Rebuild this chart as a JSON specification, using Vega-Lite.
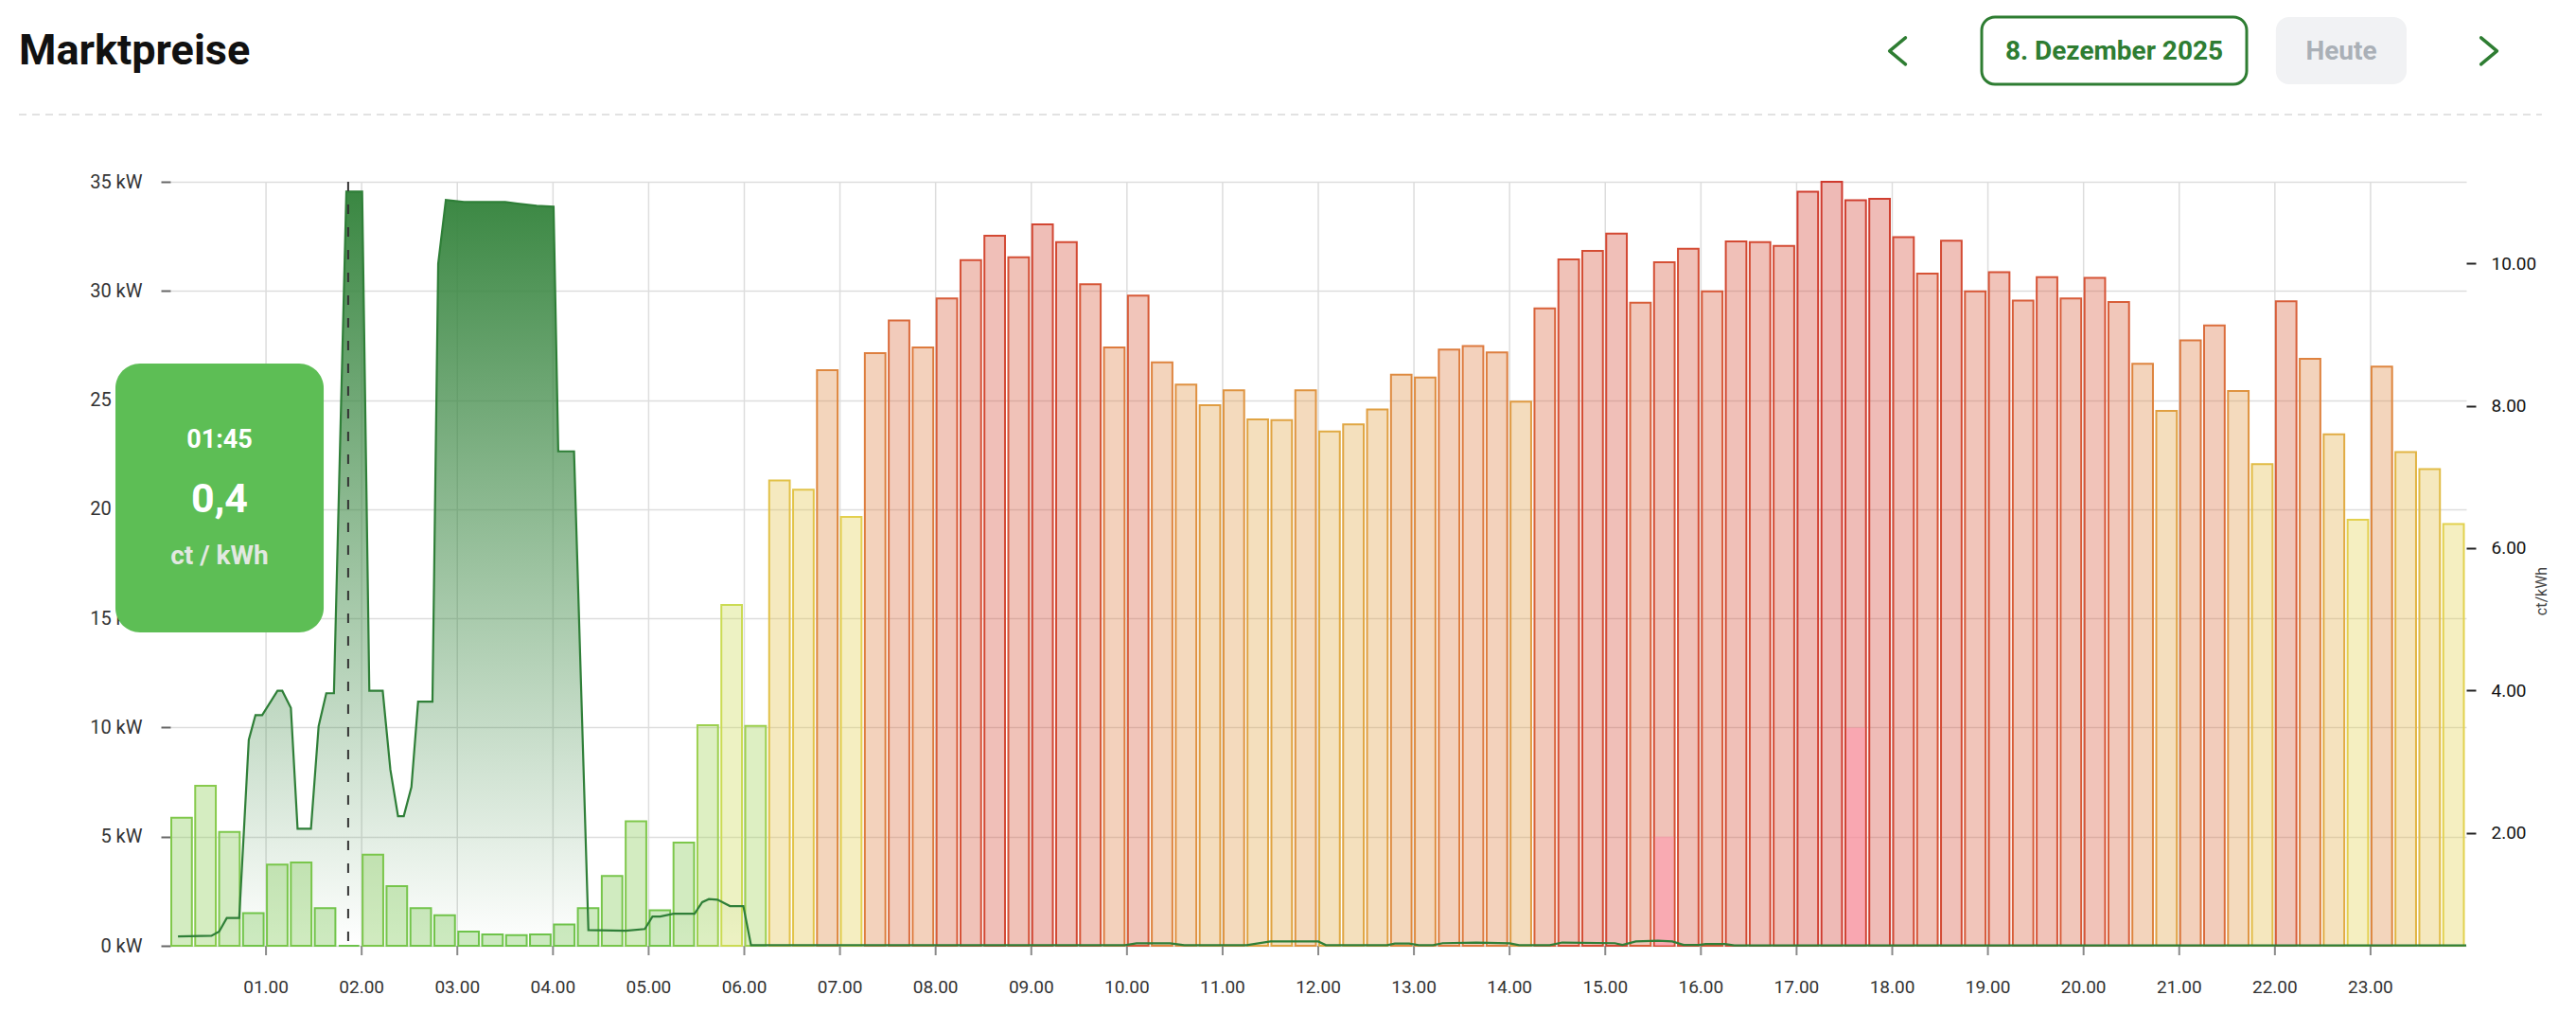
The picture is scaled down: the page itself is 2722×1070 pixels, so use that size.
{
  "$schema": "https://vega.github.io/schema/vega-lite/v6.json",
  "width": 2426,
  "height": 807,
  "autosize": {"type": "none"},
  "padding": {"left": 180, "top": 192, "right": 116, "bottom": 71},
  "background": "white",
  "config": {
    "view": {"stroke": null},
    "font": "Roboto",
    "axis": {"labelFont": "Roboto", "titleFont": "Roboto"}
  },
  "datasets": {
    "prices": [
      {"start":0,"end":0.25,"price":2.21},{"start":0.25,"end":0.5,"price":2.66},{"start":0.5,"end":0.75,"price":2.01},{"start":0.75,"end":1,"price":0.87},
      {"start":1,"end":1.25,"price":1.55},{"start":1.25,"end":1.5,"price":1.58},{"start":1.5,"end":1.75,"price":0.94},{"start":1.75,"end":2,"price":0.41},
      {"start":2,"end":2.25,"price":1.69},{"start":2.25,"end":2.5,"price":1.25},{"start":2.5,"end":2.75,"price":0.94},{"start":2.75,"end":3,"price":0.84},
      {"start":3,"end":3.25,"price":0.61},{"start":3.25,"end":3.5,"price":0.57},{"start":3.5,"end":3.75,"price":0.56},{"start":3.75,"end":4,"price":0.57},
      {"start":4,"end":4.25,"price":0.71},{"start":4.25,"end":4.5,"price":0.94},{"start":4.5,"end":4.75,"price":1.39},{"start":4.75,"end":5,"price":2.16},
      {"start":5,"end":5.25,"price":0.91},{"start":5.25,"end":5.5,"price":1.86},{"start":5.5,"end":5.75,"price":3.51},{"start":5.75,"end":6,"price":5.2},
      {"start":6,"end":6.25,"price":3.5},{"start":6.25,"end":6.5,"price":6.95},{"start":6.5,"end":6.75,"price":6.82},{"start":6.75,"end":7,"price":8.5},
      {"start":7,"end":7.25,"price":6.44},{"start":7.25,"end":7.5,"price":8.74},{"start":7.5,"end":7.75,"price":9.2},{"start":7.75,"end":8,"price":8.82},
      {"start":8,"end":8.25,"price":9.51},{"start":8.25,"end":8.5,"price":10.05},{"start":8.5,"end":8.75,"price":10.39},{"start":8.75,"end":9,"price":10.09},
      {"start":9,"end":9.25,"price":10.55},{"start":9.25,"end":9.5,"price":10.3},{"start":9.5,"end":9.75,"price":9.71},{"start":9.75,"end":10,"price":8.82},
      {"start":10,"end":10.25,"price":9.55},{"start":10.25,"end":10.5,"price":8.61},{"start":10.5,"end":10.75,"price":8.3},{"start":10.75,"end":11,"price":8.01},
      {"start":11,"end":11.25,"price":8.22},{"start":11.25,"end":11.5,"price":7.81},{"start":11.5,"end":11.75,"price":7.8},{"start":11.75,"end":12,"price":8.22},
      {"start":12,"end":12.25,"price":7.64},{"start":12.25,"end":12.5,"price":7.74},{"start":12.5,"end":12.75,"price":7.95},{"start":12.75,"end":13,"price":8.44},
      {"start":13,"end":13.25,"price":8.4},{"start":13.25,"end":13.5,"price":8.79},{"start":13.5,"end":13.75,"price":8.84},{"start":13.75,"end":14,"price":8.75},
      {"start":14,"end":14.25,"price":8.06},{"start":14.25,"end":14.5,"price":9.37},{"start":14.5,"end":14.75,"price":10.06},{"start":14.75,"end":15,"price":10.18},
      {"start":15,"end":15.25,"price":10.42},{"start":15.25,"end":15.5,"price":9.45},{"start":15.5,"end":15.75,"price":10.02},{"start":15.75,"end":16,"price":10.21},
      {"start":16,"end":16.25,"price":9.61},{"start":16.25,"end":16.5,"price":10.31},{"start":16.5,"end":16.75,"price":10.3},{"start":16.75,"end":17,"price":10.25},
      {"start":17,"end":17.25,"price":11.01},{"start":17.25,"end":17.5,"price":11.15},{"start":17.5,"end":17.75,"price":10.89},{"start":17.75,"end":18,"price":10.91},
      {"start":18,"end":18.25,"price":10.37},{"start":18.25,"end":18.5,"price":9.86},{"start":18.5,"end":18.75,"price":10.32},{"start":18.75,"end":19,"price":9.61},
      {"start":19,"end":19.25,"price":9.88},{"start":19.25,"end":19.5,"price":9.48},{"start":19.5,"end":19.75,"price":9.81},{"start":19.75,"end":20,"price":9.51},
      {"start":20,"end":20.25,"price":9.8},{"start":20.25,"end":20.5,"price":9.46},{"start":20.5,"end":20.75,"price":8.59},{"start":20.75,"end":21,"price":7.93},
      {"start":21,"end":21.25,"price":8.92},{"start":21.25,"end":21.5,"price":9.13},{"start":21.5,"end":21.75,"price":8.21},{"start":21.75,"end":22,"price":7.18},
      {"start":22,"end":22.25,"price":9.47},{"start":22.25,"end":22.5,"price":8.66},{"start":22.5,"end":22.75,"price":7.6},{"start":22.75,"end":23,"price":6.4},
      {"start":23,"end":23.25,"price":8.55},{"start":23.25,"end":23.5,"price":7.35},{"start":23.5,"end":23.75,"price":7.11},{"start":23.75,"end":24,"price":6.34}
    ],
    "power": [
      {"h":0.08,"kw":0.43},{"h":0.43,"kw":0.46},{"h":0.51,"kw":0.65},{"h":0.59,"kw":1.27},{"h":0.72,"kw":1.27},{"h":0.82,"kw":9.44},
      {"h":0.89,"kw":10.57},{"h":0.96,"kw":10.57},{"h":1.12,"kw":11.68},{"h":1.17,"kw":11.68},{"h":1.26,"kw":10.9},{"h":1.33,"kw":5.36},
      {"h":1.47,"kw":5.36},{"h":1.55,"kw":10.06},{"h":1.63,"kw":11.57},{"h":1.71,"kw":11.57},{"h":1.84,"kw":34.55},{"h":2.005,"kw":34.55},
      {"h":2.08,"kw":11.68},{"h":2.22,"kw":11.68},{"h":2.3,"kw":8.07},{"h":2.38,"kw":5.94},{"h":2.44,"kw":5.94},{"h":2.52,"kw":7.27},
      {"h":2.59,"kw":11.18},{"h":2.74,"kw":11.18},{"h":2.8,"kw":31.25},{"h":2.88,"kw":34.17},{"h":3.07,"kw":34.07},{"h":3.5,"kw":34.07},
      {"h":3.63,"kw":34.0},{"h":3.83,"kw":33.9},{"h":4.006,"kw":33.86},{"h":4.055,"kw":22.65},{"h":4.22,"kw":22.65},{"h":4.37,"kw":0.72},
      {"h":4.76,"kw":0.69},{"h":4.96,"kw":0.77},{"h":5.04,"kw":1.34},{"h":5.12,"kw":1.34},{"h":5.26,"kw":1.47},{"h":5.48,"kw":1.47},
      {"h":5.56,"kw":2.0},{"h":5.63,"kw":2.14},{"h":5.72,"kw":2.11},{"h":5.85,"kw":1.82},{"h":5.99,"kw":1.82},{"h":6.07,"kw":0.03},
      {"h":9.98,"kw":0.03},{"h":10.1,"kw":0.11},{"h":10.45,"kw":0.11},{"h":10.6,"kw":0.03},{"h":11.25,"kw":0.03},{"h":11.5,"kw":0.2},
      {"h":12.0,"kw":0.2},{"h":12.08,"kw":0.03},{"h":12.72,"kw":0.03},{"h":12.8,"kw":0.1},{"h":12.95,"kw":0.1},{"h":13.05,"kw":0.03},
      {"h":13.2,"kw":0.03},{"h":13.3,"kw":0.12},{"h":13.65,"kw":0.15},{"h":14.0,"kw":0.11},{"h":14.1,"kw":0.03},{"h":14.42,"kw":0.03},
      {"h":14.55,"kw":0.15},{"h":15.1,"kw":0.12},{"h":15.18,"kw":0.04},{"h":15.32,"kw":0.2},{"h":15.55,"kw":0.23},{"h":15.7,"kw":0.2},
      {"h":15.82,"kw":0.04},{"h":15.98,"kw":0.04},{"h":16.05,"kw":0.08},{"h":16.25,"kw":0.08},{"h":16.35,"kw":0.02},{"h":24.0,"kw":0.02}
    ],
    "highlight": [
      {"start":15.5,"end":15.75,"kw":5.0},
      {"start":17.5,"end":17.75,"kw":10.0}
    ],
    "hours": [
      {"hour":1,"label":"01.00"},{"hour":2,"label":"02.00"},{"hour":3,"label":"03.00"},{"hour":4,"label":"04.00"},
      {"hour":5,"label":"05.00"},{"hour":6,"label":"06.00"},{"hour":7,"label":"07.00"},{"hour":8,"label":"08.00"},
      {"hour":9,"label":"09.00"},{"hour":10,"label":"10.00"},{"hour":11,"label":"11.00"},{"hour":12,"label":"12.00"},
      {"hour":13,"label":"13.00"},{"hour":14,"label":"14.00"},{"hour":15,"label":"15.00"},{"hour":16,"label":"16.00"},
      {"hour":17,"label":"17.00"},{"hour":18,"label":"18.00"},{"hour":19,"label":"19.00"},{"hour":20,"label":"20.00"},
      {"hour":21,"label":"21.00"},{"hour":22,"label":"22.00"},{"hour":23,"label":"23.00"}
    ],
    "hover": [{"start":1.75,"time":"01:45","price":"0,4","unit":"ct / kWh"}]
  },
  "layer": [
    {
      "data": {"name": "hours"},
      "mark": {"type": "rule", "color": "#dddddd", "strokeWidth": 1.5},
      "encoding": {
        "x": {"field": "hour", "type": "quantitative", "title": null, "scale": {"domain": [0, 24], "nice": false, "zero": false}, "axis": null}
      }
    },
    {
      "data": {"name": "hours"},
      "mark": {"type": "rule", "color": "#8a8a8a", "strokeWidth": 2, "y2Offset": 10},
      "encoding": {
        "x": {"field": "hour", "type": "quantitative", "scale": {"domain": [0, 24], "nice": false, "zero": false}, "axis": null},
        "y": {"datum": 0, "scale": {"domain": [0, 35], "nice": false}, "axis": null},
        "y2": {"datum": 0}
      }
    },
    {
      "data": {"name": "hours"},
      "mark": {"type": "text", "font": "Roboto", "fontSize": 19, "color": "#333333", "align": "center", "baseline": "alphabetic", "dy": 50},
      "encoding": {
        "x": {"field": "hour", "type": "quantitative", "scale": {"domain": [0, 24], "nice": false, "zero": false}, "axis": null},
        "y": {"datum": 0, "scale": {"domain": [0, 35], "nice": false}, "axis": null},
        "text": {"field": "label"}
      }
    },
    {
      "data": {"name": "power"},
      "mark": {
        "type": "area",
        "interpolate": "linear",
        "line": false,
        "fill": {
          "gradient": "linear", "x1": 0, "y1": 0, "x2": 0, "y2": 1,
          "stops": [
            {"offset": 0, "color": "rgba(58,135,66,1)"},
            {"offset": 0.5, "color": "rgba(58,135,66,0.5)"},
            {"offset": 1, "color": "rgba(58,135,66,0.0)"}
          ]
        }
      },
      "encoding": {
        "x": {"field": "h", "type": "quantitative", "scale": {"domain": [0, 24], "nice": false, "zero": false}, "axis": null},
        "y": {
          "field": "kw", "type": "quantitative", "stack": null,
          "scale": {"domain": [0, 35], "nice": false, "zero": true},
          "axis": {
            "title": null, "values": [0,5,10,15,20,25,30,35],
            "labelExpr": "datum.value + ' kW'",
            "domain": false, "grid": true, "gridColor": "#dddddd", "gridWidth": 1.5,
            "tickSize": 10, "tickWidth": 2, "tickColor": "#666666",
            "labelFontSize": 20, "labelColor": "#333333", "labelPadding": 20
          }
        }
      }
    },
    {
      "data": {"name": "prices"},
      "mark": {"type": "bar", "fillOpacity": 0.35, "strokeWidth": 2, "xOffset": 1, "x2Offset": -2.5},
      "encoding": {
        "x": {"field": "start", "type": "quantitative", "scale": {"domain": [0, 24], "nice": false, "zero": false}, "axis": null},
        "x2": {"field": "end"},
        "y": {
          "field": "price", "type": "quantitative",
          "scale": {"domain": [0.41, 11.15], "nice": false, "zero": false, "clamp": true},
          "axis": {
            "orient": "right", "title": "ct/kWh", "values": [2,4,6,8,10], "format": ".2f",
            "domain": false, "grid": false, "tickSize": 10, "tickWidth": 2, "tickColor": "#222222",
            "labelFontSize": 19, "labelColor": "#111111", "labelPadding": 16,
            "titleFontSize": 16, "titleFontWeight": "normal", "titleColor": "#444444",
            "titleAngle": 270, "titlePadding": 14, "titleY": 432
          }
        },
        "y2": {"datum": 0.41},
        "color": {
          "field": "price", "type": "quantitative", "legend": null,
          "scale": {
            "domain": [0.41, 2.5, 4.0, 5.5, 6.4, 7.2, 8.0, 8.8, 9.6, 11.15],
            "range": ["#6cc24a", "#84c94c", "#a9d452", "#d3dd55", "#e3d04e", "#e1ba45", "#e09d42", "#dd7c3e", "#d75838", "#cf3a2e"],
            "interpolate": "rgb"
          }
        },
        "stroke": {
          "field": "price", "type": "quantitative", "legend": null,
          "scale": {
            "domain": [0.41, 2.5, 4.0, 5.5, 6.4, 7.2, 8.0, 8.8, 9.6, 11.15],
            "range": ["#6cc24a", "#84c94c", "#a9d452", "#d3dd55", "#e3d04e", "#e1ba45", "#e09d42", "#dd7c3e", "#d75838", "#cf3a2e"],
            "interpolate": "rgb"
          }
        }
      }
    },
    {
      "data": {"name": "highlight"},
      "mark": {"type": "rect", "fill": "#ff9aae", "opacity": 0.6, "xOffset": 2, "x2Offset": -3.5},
      "encoding": {
        "x": {"field": "start", "type": "quantitative", "scale": {"domain": [0, 24], "nice": false, "zero": false}, "axis": null},
        "x2": {"field": "end"},
        "y": {"field": "kw", "type": "quantitative", "scale": {"domain": [0, 35], "nice": false}, "axis": null},
        "y2": {"datum": 0}
      }
    },
    {
      "data": {"name": "power"},
      "mark": {"type": "line", "interpolate": "linear", "color": "#2f7f38", "strokeWidth": 2.2},
      "encoding": {
        "x": {"field": "h", "type": "quantitative", "scale": {"domain": [0, 24], "nice": false, "zero": false}, "axis": null},
        "y": {"field": "kw", "type": "quantitative", "scale": {"domain": [0, 35], "nice": false}, "axis": null}
      }
    },
    {
      "data": {"name": "hover"},
      "mark": {"type": "rule", "color": "#333333", "strokeWidth": 2, "strokeDash": [10, 14], "xOffset": 11},
      "encoding": {
        "x": {"field": "start", "type": "quantitative", "scale": {"domain": [0, 24], "nice": false, "zero": false}, "axis": null},
        "y": {"datum": 35, "scale": {"domain": [0, 35], "nice": false}, "axis": null},
        "y2": {"datum": 0}
      }
    },
    {
      "data": {"name": "hover"},
      "mark": {"type": "rect", "fill": "#5dbe55", "cornerRadius": 26},
      "encoding": {
        "x": {"datum": -0.574, "scale": {"domain": [0, 24], "nice": false, "zero": false}, "axis": null},
        "x2": {"datum": 1.603},
        "y": {"datum": 26.67, "scale": {"domain": [0, 35], "nice": false}, "axis": null},
        "y2": {"datum": 14.36}
      }
    },
    {
      "data": {"name": "hover"},
      "mark": {"type": "text", "font": "Roboto", "fontWeight": "bold", "fontSize": 27, "color": "#ffffff", "align": "center", "baseline": "alphabetic"},
      "encoding": {
        "x": {"datum": 0.514, "scale": {"domain": [0, 24], "nice": false, "zero": false}, "axis": null},
        "y": {"datum": 22.81, "scale": {"domain": [0, 35], "nice": false}, "axis": null},
        "text": {"field": "time"}
      }
    },
    {
      "data": {"name": "hover"},
      "mark": {"type": "text", "font": "Roboto", "fontWeight": "bold", "fontSize": 43, "color": "#ffffff", "align": "center", "baseline": "alphabetic"},
      "encoding": {
        "x": {"datum": 0.514, "scale": {"domain": [0, 24], "nice": false, "zero": false}, "axis": null},
        "y": {"datum": 19.86, "scale": {"domain": [0, 35], "nice": false}, "axis": null},
        "text": {"field": "price"}
      }
    },
    {
      "data": {"name": "hover"},
      "mark": {"type": "text", "font": "Roboto", "fontWeight": "bold", "fontSize": 28, "color": "#e2e8e1", "align": "center", "baseline": "alphabetic"},
      "encoding": {
        "x": {"datum": 0.514, "scale": {"domain": [0, 24], "nice": false, "zero": false}, "axis": null},
        "y": {"datum": 17.48, "scale": {"domain": [0, 35], "nice": false}, "axis": null},
        "text": {"field": "unit"}
      }
    },
    {
      "data": {"values": [{"label": "Marktpreise"}]},
      "mark": {"type": "text", "font": "Roboto", "fontWeight": "bold", "fontSize": 45, "color": "#111111", "align": "left", "baseline": "alphabetic"},
      "encoding": {
        "x": {"datum": -1.583, "scale": {"domain": [0, 24], "nice": false, "zero": false}, "axis": null},
        "y": {"datum": 40.38, "scale": {"domain": [0, 35], "nice": false}, "axis": null},
        "text": {"field": "label"}
      }
    },
    {
      "data": {"values": [{"label": "separator"}]},
      "mark": {"type": "rule", "color": "#e2e2e2", "strokeWidth": 2, "strokeDash": [8, 6]},
      "encoding": {
        "x": {"datum": -1.583, "scale": {"domain": [0, 24], "nice": false, "zero": false}, "axis": null},
        "x2": {"datum": 24.79},
        "y": {"datum": 38.08, "scale": {"domain": [0, 35], "nice": false}, "axis": null}
      }
    },
    {
      "data": {"values": [{"label": "date"}]},
      "mark": {"type": "rect", "fill": "#ffffff", "stroke": "#2e7d32", "strokeWidth": 3, "cornerRadius": 14},
      "encoding": {
        "x": {"datum": 18.935, "scale": {"domain": [0, 24], "nice": false, "zero": false}, "axis": null},
        "x2": {"datum": 21.705},
        "y": {"datum": 42.55, "scale": {"domain": [0, 35], "nice": false}, "axis": null},
        "y2": {"datum": 39.47}
      }
    },
    {
      "data": {"values": [{"label": "today"}]},
      "mark": {"type": "rect", "fill": "#f1f2f4", "cornerRadius": 14},
      "encoding": {
        "x": {"datum": 22.01, "scale": {"domain": [0, 24], "nice": false, "zero": false}, "axis": null},
        "x2": {"datum": 23.377},
        "y": {"datum": 42.55, "scale": {"domain": [0, 35], "nice": false}, "axis": null},
        "y2": {"datum": 39.47}
      }
    },
    {
      "data": {"values": [{"label": "8. Dezember 2025"}]},
      "mark": {"type": "text", "font": "Roboto", "fontWeight": "bold", "fontSize": 28, "color": "#2e7d32", "align": "center", "baseline": "alphabetic"},
      "encoding": {
        "x": {"datum": 20.32, "scale": {"domain": [0, 24], "nice": false, "zero": false}, "axis": null},
        "y": {"datum": 40.6, "scale": {"domain": [0, 35], "nice": false}, "axis": null},
        "text": {"field": "label"}
      }
    },
    {
      "data": {"values": [{"label": "Heute"}]},
      "mark": {"type": "text", "font": "Roboto", "fontWeight": "bold", "fontSize": 28, "color": "#aab0b7", "align": "center", "baseline": "alphabetic"},
      "encoding": {
        "x": {"datum": 22.694, "scale": {"domain": [0, 24], "nice": false, "zero": false}, "axis": null},
        "y": {"datum": 40.6, "scale": {"domain": [0, 35], "nice": false}, "axis": null},
        "text": {"field": "label"}
      }
    },
    {
      "data": {"values": [{"label": "zurück"}]},
      "mark": {"type": "point", "shape": "M 0.3 -0.5 L -0.3 0 L 0.3 0.5", "size": 3136, "filled": false, "stroke": "#2e7d32", "strokeWidth": 3.5, "strokeCap": "round", "strokeJoin": "round", "opacity": 1},
      "encoding": {
        "x": {"datum": 18.055, "scale": {"domain": [0, 24], "nice": false, "zero": false}, "axis": null},
        "y": {"datum": 40.99, "scale": {"domain": [0, 35], "nice": false}, "axis": null}
      }
    },
    {
      "data": {"values": [{"label": "vor"}]},
      "mark": {"type": "point", "shape": "M -0.3 -0.5 L 0.3 0 L -0.3 0.5", "size": 3136, "filled": false, "stroke": "#2e7d32", "strokeWidth": 3.5, "strokeCap": "round", "strokeJoin": "round", "opacity": 1},
      "encoding": {
        "x": {"datum": 24.238, "scale": {"domain": [0, 24], "nice": false, "zero": false}, "axis": null},
        "y": {"datum": 40.99, "scale": {"domain": [0, 35], "nice": false}, "axis": null}
      }
    }
  ],
  "resolve": {"scale": {"y": "independent", "color": "independent", "stroke": "independent"}}
}
